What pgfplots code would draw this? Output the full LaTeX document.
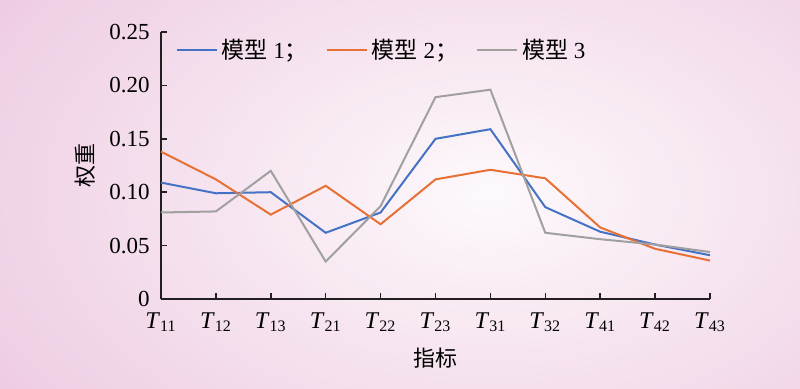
\documentclass[border=0pt]{standalone}
\usepackage{pgfplots}
\pgfplotsset{compat=1.18}
\usepackage{fontspec}
\setmainfont{Liberation Serif}
\newfontfamily\cjk{Noto Sans CJK SC}
\definecolor{bgpink}{RGB}{233,189,217}
\definecolor{bgin}{RGB}{253,249,252}
\definecolor{s1}{RGB}{68,114,196}
\definecolor{s2}{RGB}{232,112,52}
\definecolor{s3}{RGB}{160,160,160}
\definecolor{axc}{RGB}{35,31,32}
\begin{document}
\fontsize{10.5}{12}\selectfont
\begin{tikzpicture}
\begin{scope}
\clip (0,0) rectangle (400pt,194pt);
\fill[bgpink] (0,0) rectangle (400pt,194pt);
\shade[inner color=bgin, outer color=bgpink] (245pt,97pt) ellipse (390pt and 240pt);
\end{scope}
\useasboundingbox (0,0) rectangle (400pt,194pt);
\begin{axis}[
  at={(80.5pt,44.5pt)}, anchor=south west,
  width=274.5pt, height=133.5pt, scale only axis,
  axis lines=left,
  axis line style={axc, line width=0.75pt, -},
  xmin=0, xmax=10, ymin=0, ymax=0.25,
  xtick={0,1,...,10},
  xticklabels={\textit{T}\textsubscript{11},\textit{T}\textsubscript{12},\textit{T}\textsubscript{13},\textit{T}\textsubscript{21},\textit{T}\textsubscript{22},\textit{T}\textsubscript{23},\textit{T}\textsubscript{31},\textit{T}\textsubscript{32},\textit{T}\textsubscript{41},\textit{T}\textsubscript{42},\textit{T}\textsubscript{43}},
  ytick={0,0.05,0.10,0.15,0.20,0.25},
  yticklabels={0,0.05,0.10,0.15,0.20,0.25},
  tick align=inside,
  major tick length=3pt,
  tick style={axc, line width=0.75pt},
  xticklabel style={font=\fontsize{12}{14}\selectfont, yshift=-3pt},
  yticklabel style={font=\fontsize{11.5}{14}\selectfont, xshift=-2pt},
  xlabel={\cjk 指标},
  ylabel={\cjk 权重},
  xlabel style={font=\fontsize{11}{12}\selectfont, yshift=-1pt},
  ylabel style={font=\fontsize{11}{12}\selectfont, yshift=0pt},
  legend columns=3,
  legend style={at={(0.026,0.99)}, anchor=north west, draw=none, fill=none,
    inner sep=0pt, font=\fontsize{11.5}{13}\selectfont,
    /tikz/every even column/.append style={column sep=7pt}},
  legend image code/.code={\draw[#1] (0pt,0pt) -- (20pt,0pt);},
  every axis plot/.append style={line width=1pt},
  clip=false,
]
\addplot[s1] coordinates {(0,0.109) (1,0.099) (2,0.100) (3,0.062) (4,0.081) (5,0.150) (6,0.159) (7,0.086) (8,0.063) (9,0.051) (10,0.041)};
\addlegendentry{{\cjk 模型} 1{\cjk ；}}
\addplot[s2] coordinates {(0,0.138) (1,0.112) (2,0.079) (3,0.106) (4,0.070) (5,0.112) (6,0.121) (7,0.113) (8,0.067) (9,0.047) (10,0.036)};
\addlegendentry{{\cjk 模型} 2{\cjk ；}}
\addplot[s3] coordinates {(0,0.081) (1,0.082) (2,0.120) (3,0.035) (4,0.087) (5,0.189) (6,0.196) (7,0.062) (8,0.056) (9,0.051) (10,0.044)};
\addlegendentry{{\cjk 模型} 3}
\end{axis}
\end{tikzpicture}
\end{document}
